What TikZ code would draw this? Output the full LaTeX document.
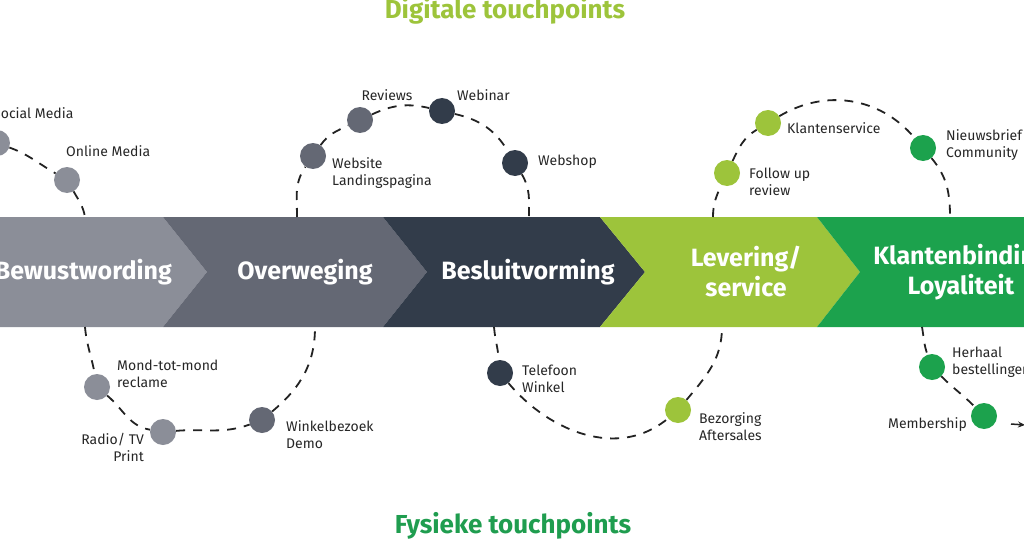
\documentclass[tikz,border=0pt]{standalone}
\usepackage{fontspec}
\setmainfont{Fira Sans}
\usetikzlibrary{arrows.meta}
\begin{document}
\begin{tikzpicture}[x=1pt,y=1pt,
  dot/.style={circle,minimum size=26pt,inner sep=0pt},
  lbl/.style={font=\fontsize{14}{17}\selectfont,text=labeltext,align=left,inner sep=0pt},
  phase/.style={font=\fontsize{25}{30}\selectfont\bfseries,text=white,align=center,inner sep=0pt},
  headline/.style={font=\fontsize{26}{30}\selectfont\bfseries,inner sep=0pt},
  route/.style={line width=1.8pt,dash pattern=on 9pt off 8pt,routeline}]
 \definecolor{tpgrey}{HTML}{8B8E98}
 \definecolor{tpslate}{HTML}{646874}
 \definecolor{tpnavy}{HTML}{323C4A}
 \definecolor{tplime}{HTML}{9DC43B}
 \definecolor{tpgreen}{HTML}{1CA24D}
 \definecolor{tpfys}{HTML}{1F9D4F}
 \definecolor{labeltext}{HTML}{262626}
 \definecolor{routeline}{HTML}{222222}
 \useasboundingbox (0,0) rectangle (1024,542);
 \clip (0,0) rectangle (1024,542);
 \fill[tpgrey] (-10,325) -- (163,325) -- (207,270) -- (163,215) -- (-10,215) -- cycle;
 \fill[tpslate] (163,325) -- (383,325) -- (427,270) -- (383,215) -- (163,215) -- (207,270) -- cycle;
 \fill[tpnavy] (383,325) -- (600,325) -- (645,270) -- (600,215) -- (383,215) -- (427,270) -- cycle;
 \fill[tplime] (600,325) -- (817,325) -- (860,270) -- (817,215) -- (600,215) -- (645,270) -- cycle;
 \fill[tpgreen] (817,325) -- (1034,325) -- (1034,215) -- (817,215) -- (860,270) -- cycle;
 \node[phase,anchor=east] (p1) at (172,270) {Bewustwording};
 \node[phase] (p2) at (305,270) {Overweging};
 \node[phase] (p3) at (528,270) {Besluitvorming};
 \node[phase] (p4) at (746,270) {Levering/\\service};
 \node[phase] (p5) at (961,270) {Klantenbinding\\Loyaliteit};
 \coordinate (d1) at (85,325);
 \coordinate (d2) at (297,325);
 \coordinate (d3) at (529,325);
 \coordinate (d4) at (713,325);
 \coordinate (d5) at (950,325);
 \coordinate (d6) at (85,215);
 \coordinate (d7) at (315,215);
 \coordinate (d8) at (494,215);
 \coordinate (d9) at (722,215);
 \coordinate (d10) at (922,215);
 \coordinate (t1) at (1011,118);
 \coordinate (t2) at (1025,117);
 \node[dot,fill=tpgrey] (soc) at (-3,399) {};
 \node[dot,fill=tpgrey] (onl) at (67,362) {};
 \node[dot,fill=tpslate] (web) at (313,386) {};
 \node[dot,fill=tpslate] (rev) at (360,422) {};
 \node[dot,fill=tpnavy] (wbn) at (442,431) {};
 \node[dot,fill=tpnavy] (wsh) at (515,379) {};
 \node[dot,fill=tplime] (fol) at (727,369) {};
 \node[dot,fill=tplime] (kls) at (768,419) {};
 \node[dot,fill=tpgreen] (nws) at (923,394) {};
 \node[dot,fill=tpgrey] (mtm) at (97,155) {};
 \node[dot,fill=tpgrey] (rtv) at (163,110) {};
 \node[dot,fill=tpslate] (wkb) at (262,122) {};
 \node[dot,fill=tpnavy] (tel) at (500,169) {};
 \node[dot,fill=tplime] (bez) at (678,132) {};
 \node[dot,fill=tpgreen] (hrh) at (932,175) {};
 \node[dot,fill=tpgreen] (mbs) at (984,126) {};
 \draw[route] (soc) to[out=-20,in=150] (onl) to[out=-60,in=100] (d1);
 \draw[route] (d2) to[out=90,in=-125] (web) to[out=55,in=-155] (rev) to[out=25,in=167] (wbn) to[out=-13,in=121] (wsh) to[out=-59,in=90] (d3);
 \draw[route] (d4) to[out=90,in=-115] (fol) to[out=65,in=-149] (kls) to[out=31,in=130] (nws) to[out=-50,in=90] (d5);
 \draw[route] (d6) to[out=-85,in=100] (mtm) to[out=-40,in=170] (rtv) to[out=5,in=-160] (wkb) to[out=40,in=-90] (d7);
 \draw[route] (d8) to[out=-85,in=95] (tel) to[out=-50,in=-140] (bez) to[out=50,in=-90] (d9);
 \draw[route] (d10) to[out=-80,in=110] (hrh) to[out=-45,in=135] (mbs);
 \draw[routeline,line width=1.5pt,-{Stealth[length=7pt,width=6pt]}] (t1) -- (t2);
 \node[lbl,anchor=west] (socl) at (-7,429) {Social Media};
 \node[lbl,anchor=west] (onll) at (66,391) {Online Media};
 \node[lbl] (revl) at (387,447) {Reviews};
 \node[lbl,anchor=west] (wbnl) at (457,447) {Webinar};
 \node[lbl,anchor=west] (wshl) at (538,380) {Webshop};
 \node[lbl,anchor=west] (webl) at (332,369) {Website\\Landingspagina};
 \node[lbl,anchor=west] (klsl) at (787,414) {Klantenservice};
 \node[lbl,anchor=west] (foll) at (749,360) {Follow up\\review};
 \node[lbl,anchor=west] (nwsl) at (946,397) {Nieuwsbrief\\Community};
 \node[lbl,anchor=west] (mtml) at (117,168) {Mond-tot-mond\\reclame};
 \node[lbl,anchor=east,align=right] (rtvl) at (144,95) {Radio/ TV\\Print};
 \node[lbl,anchor=west] (wkbl) at (286,107) {Winkelbezoek\\Demo};
 \node[lbl,anchor=west] (tell) at (522,163) {Telefoon\\Winkel};
 \node[lbl,anchor=west] (bezl) at (699,115) {Bezorging\\Aftersales};
 \node[lbl,anchor=west] (hrhl) at (952,180) {Herhaal\\bestellingen};
 \node[lbl,anchor=east] (mbsl) at (967,117) {Membership};
 \node[headline,text=tplime] (dig) at (505,531) {Digitale touchpoints};
 \node[headline,text=tpfys] (fys) at (513,16) {Fysieke touchpoints};
\end{tikzpicture}
\end{document}
